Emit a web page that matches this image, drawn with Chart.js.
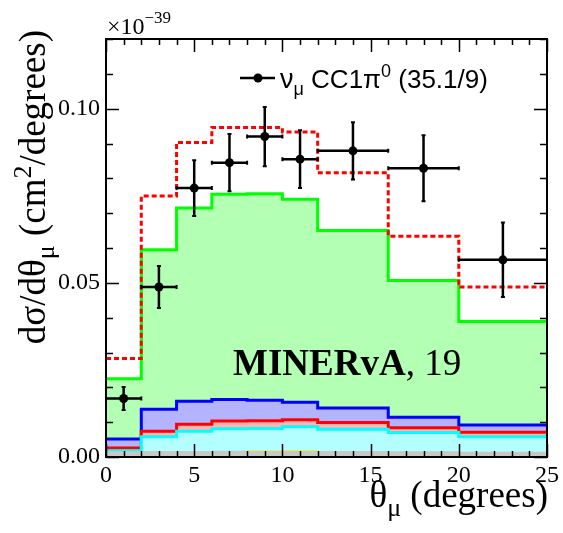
<!DOCTYPE html>
<html>
<head>
<meta charset="utf-8">
<script src="https://cdn.jsdelivr.net/npm/chart.js@4.4.1/dist/chart.umd.min.js"></script>
<style>
  html, body { margin: 0; padding: 0; background: #fff; }
  #wrap { width: 563px; height: 533px; }
</style>
</head>
<body>
<div id="wrap"><canvas id="myChart" width="563" height="533"></canvas></div>
<script>
// theta_mu bins (degrees)
var binEdges = [0, 2, 4, 6, 8, 10, 12, 16, 20, 25];
var binCenters = [1, 3, 5, 7, 9, 11, 14, 18, 22.5];

// measured cross section, units of 1e-39 cm^2/degree
var dataXsec = [0.0168, 0.0488, 0.0772, 0.0845, 0.0920, 0.0855, 0.0879, 0.0829, 0.0566];
var dataErr  = [0.0033, 0.0060, 0.0080, 0.0082, 0.0085, 0.0083, 0.0082, 0.0095, 0.0107];

// simulation, total and stacked components
var mcTotal  = [0.0283, 0.0749, 0.0903, 0.0946, 0.0946, 0.0933, 0.0816, 0.0634, 0.0488];
var mcGreen  = [0.0225, 0.0595, 0.0715, 0.0754, 0.0756, 0.0740, 0.0650, 0.0507, 0.0389];
var mcBlue   = [0.0052, 0.0137, 0.0160, 0.0165, 0.0163, 0.0157, 0.0141, 0.0114, 0.0092];
var mcRed    = [0.0026, 0.0074, 0.0094, 0.0103, 0.0104, 0.0107, 0.0099, 0.0084, 0.0071];
var mcCyan   = [0.0018, 0.0058, 0.0074, 0.0081, 0.0082, 0.0087, 0.0080, 0.0070, 0.0058];
var mcYellow = [0.0013, 0.0014, 0.0014, 0.0015, 0.0017, 0.0018, 0.0014, 0.0013, 0.0012];
var mcGray   = [0.0014, 0.0015, 0.0015, 0.0016, 0.0016, 0.0016, 0.0015, 0.0014, 0.0013];

var xTicks = [0, 5, 10, 15, 20, 25];
var yTicks = [0.00, 0.05, 0.10];

var SERIF = '"Liberation Serif", "Times New Roman", serif';
var SANS = '"Liberation Sans", Arial, sans-serif';

// histogram as stepped points: value of bin i starts at its lower edge
function histPoints(vals) {
    var pts = [];
    for (var i = 0; i < vals.length; i++) pts.push({x: binEdges[i], y: vals[i]});
    pts.push({x: binEdges[binEdges.length - 1], y: vals[vals.length - 1]});
    return pts;
}

function histSet(vals, line, fill, extra) {
    var ds = {
        data: histPoints(vals),
        borderColor: line,
        borderWidth: 3,
        stepped: 'before',
        pointRadius: 0,
        fill: fill ? 'origin' : false,
        backgroundColor: fill || 'transparent'
    };
    for (var k in extra) ds[k] = extra[k];
    return ds;
}

var points = [];
for (var i = 0; i < binCenters.length; i++) points.push({x: binCenters[i], y: dataXsec[i]});

// draws text pieces one after the other, each with its own size / offset
function richText(ctx, x, y, parts, align) {
    var total = 0;
    parts.forEach(function (p) {
        ctx.font = (p.weight || '') + ' ' + p.size + 'px ' + p.family;
        p.w = ctx.measureText(p.t).width;
        total += p.w;
    });
    var cx = align === 'right' ? x - total : x;
    parts.forEach(function (p) {
        ctx.font = (p.weight || '') + ' ' + p.size + 'px ' + p.family;
        ctx.fillText(p.t, cx, y + (p.dy || 0));
        cx += p.w;
    });
}

var frameAndLabels = {
    id: 'frameAndLabels',
    beforeDatasetDraw: function (chart, args) {
        if (args.index !== 0) return;
        // error bars for the data points
        var ctx = chart.ctx, xs = chart.scales.x, ys = chart.scales.y;
        ctx.save();
        ctx.strokeStyle = '#000';
        ctx.lineWidth = 2.5;
        for (var i = 0; i < binCenters.length; i++) {
            var px = xs.getPixelForValue(binCenters[i]);
            var py = ys.getPixelForValue(dataXsec[i]);
            var x0 = xs.getPixelForValue(binEdges[i]);
            var x1 = xs.getPixelForValue(binEdges[i + 1]);
            var y0 = ys.getPixelForValue(dataXsec[i] - dataErr[i]);
            var y1 = ys.getPixelForValue(dataXsec[i] + dataErr[i]);
            ctx.beginPath();
            ctx.moveTo(x0, py); ctx.lineTo(x1, py);
            ctx.moveTo(px, y0); ctx.lineTo(px, y1);
            ctx.stroke();
            ctx.lineWidth = 2;
            ctx.beginPath();
            ctx.moveTo(x0, py - 2); ctx.lineTo(x0, py + 2);
            ctx.moveTo(x1, py - 2); ctx.lineTo(x1, py + 2);
            ctx.moveTo(px - 2, y0); ctx.lineTo(px + 2, y0);
            ctx.moveTo(px - 2, y1); ctx.lineTo(px + 2, y1);
            ctx.stroke();
            ctx.lineWidth = 2.5;
        }
        ctx.restore();
    },
    afterDraw: function (chart) {
        var ctx = chart.ctx, a = chart.chartArea;
        var xs = chart.scales.x, ys = chart.scales.y;
        ctx.save();
        ctx.strokeStyle = '#000';
        ctx.lineWidth = 2;
        ctx.strokeRect(a.left, a.top, a.right - a.left, a.bottom - a.top);

        // inward ticks on all four sides
        ctx.lineWidth = 1.5;
        ctx.beginPath();
        for (var v = 0; v <= 25; v++) {
            var len = v % 5 === 0 ? 13 : 6;
            var px = Math.round(xs.getPixelForValue(v)) + 0.5;
            ctx.moveTo(px, a.bottom); ctx.lineTo(px, a.bottom - len);
            ctx.moveTo(px, a.top); ctx.lineTo(px, a.top + len);
        }
        for (var k = 0; k <= 12; k++) {
            var lenY = k % 5 === 0 ? 13 : 7;
            var py = Math.round(ys.getPixelForValue(k / 100)) + 0.5;
            ctx.moveTo(a.left, py); ctx.lineTo(a.left + lenY, py);
            ctx.moveTo(a.right, py); ctx.lineTo(a.right - lenY, py);
        }
        ctx.stroke();

        ctx.fillStyle = '#000';
        ctx.textBaseline = 'alphabetic';

        // exponent above the y axis
        richText(ctx, a.left + 1, 34, [
            {t: '\u00d710', size: 24, family: SERIF},
            {t: '\u221239', size: 17, family: SERIF, dy: -11}
        ]);

        // x axis title
        richText(ctx, a.right + 1, 507, [
            {t: '\u03b8', size: 37, family: SERIF},
            {t: '\u03bc', size: 26, family: SERIF, dy: 9},
            {t: ' (degrees)', size: 37, family: SERIF}
        ], 'right');

        // y axis title, rotated
        ctx.save();
        ctx.translate(45, 30);
        ctx.rotate(-Math.PI / 2);
        richText(ctx, 0, 0, [
            {t: 'd\u03c3/d\u03b8', size: 37, family: SERIF},
            {t: '\u03bc', size: 26, family: SERIF, dy: 9},
            {t: ' (cm', size: 37, family: SERIF},
            {t: '2', size: 26, family: SERIF, dy: -14},
            {t: '/degrees)', size: 37, family: SERIF}
        ], 'right');
        ctx.restore();

        // legend entry
        ctx.lineWidth = 2.5;
        ctx.beginPath();
        ctx.moveTo(240, 78); ctx.lineTo(275, 78);
        ctx.stroke();
        ctx.beginPath();
        ctx.arc(258, 78, 4.5, 0, Math.PI * 2);
        ctx.fill();
        richText(ctx, 280, 88, [
            {t: '\u03bd', size: 27, family: SANS},
            {t: '\u03bc', size: 18, family: SANS, dy: 7},
            {t: ' CC1\u03c0', size: 26, family: SANS},
            {t: '0', size: 18, family: SANS, dy: -11},
            {t: ' (35.1/9)', size: 26, family: SANS}
        ]);

        richText(ctx, 233, 375, [
            {t: 'MINERvA', size: 37, family: SERIF, weight: 'bold'},
            {t: ', 19', size: 37, family: SERIF}
        ]);
        ctx.restore();
    }
};

var ctx = document.getElementById('myChart');

var chart = new Chart(ctx, {
    type: 'line',
    data: {
        datasets: [
            {
                data: points,
                showLine: false,
                pointRadius: 4.5,
                pointBackgroundColor: '#000',
                pointBorderColor: '#000',
                borderWidth: 0
            },
            histSet(mcTotal, '#ff0000', null, {borderDash: [5, 3]}),
            histSet(mcGray, '#c8c8c8', '#c8c8c8', {borderWidth: 1.5}),
            histSet(mcYellow, '#ffff00', null, {borderWidth: 1.5}),
            histSet(mcCyan, '#00ffff', '#b3ffff'),
            histSet(mcRed, '#ff0000', '#ffb3b3'),
            histSet(mcBlue, '#0000ff', '#b3b3ff'),
            histSet(mcGreen, '#00ff00', '#b3ffb3')
        ]
    },
    options: {
        responsive: false,
        animation: false,
        events: [],
        layout: {padding: {left: 0, right: 16, top: 39, bottom: 0}},
        plugins: {legend: {display: false}, tooltip: {enabled: false}},
        scales: {
            x: {
                type: 'linear',
                min: 0,
                max: 25,
                grid: {display: false, drawTicks: false},
                border: {display: false},
                afterBuildTicks: function (s) { s.ticks = xTicks.map(function (v) { return {value: v}; }); },
                afterFit: function (s) { s.height = 76; },
                ticks: {
                    padding: 4,
                    maxRotation: 0,
                    color: '#000',
                    font: {family: SERIF, size: 24},
                    callback: function (v) { return String(v); }
                }
            },
            y: {
                type: 'linear',
                min: 0,
                max: 0.12,
                grid: {display: false, drawTicks: false},
                border: {display: false},
                afterBuildTicks: function (s) { s.ticks = yTicks.map(function (v) { return {value: v}; }); },
                afterFit: function (s) { s.width = 106; },
                ticks: {
                    padding: 6,
                    color: '#000',
                    font: {family: SERIF, size: 24},
                    callback: function (v) { return v.toFixed(2); }
                }
            }
        }
    },
    plugins: [frameAndLabels]
});
</script>
</body>
</html>
